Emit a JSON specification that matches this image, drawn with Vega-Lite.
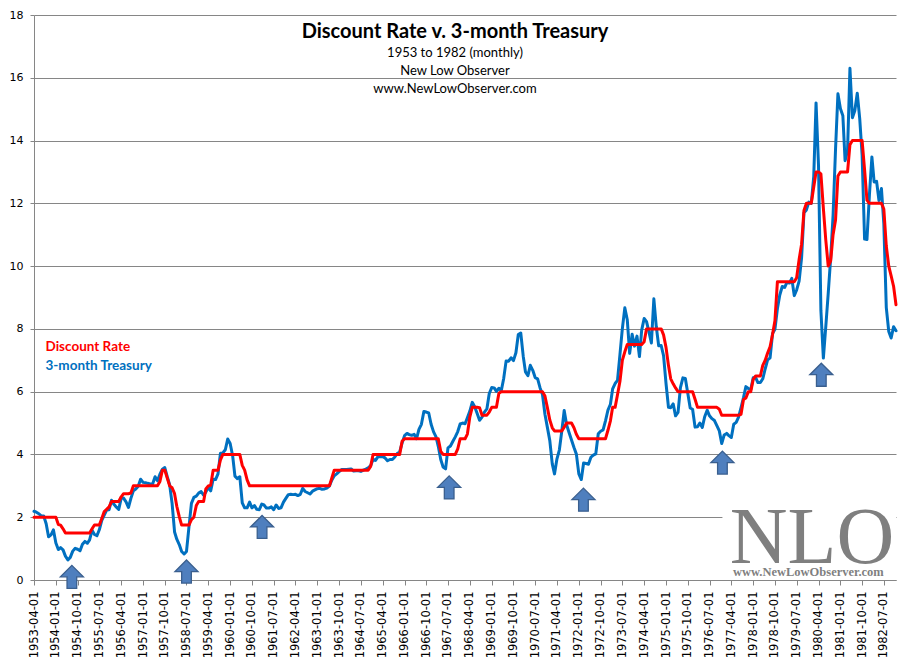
{
  "$schema": "https://vega.github.io/schema/vega-lite/v6.json",
  "autosize": {"type": "none"},
  "width": 862,
  "height": 565,
  "padding": {"left": 34, "top": 15, "right": 15, "bottom": 82},
  "background": "white",
  "title": {
    "text": "Discount Rate v. 3-month Treasury",
    "subtitle": ["1953 to 1982 (monthly)", "New Low Observer", "www.NewLowObserver.com"],
    "anchor": "middle",
    "offset": -87,
    "dx": -10,
    "font": "Lato",
    "fontSize": 20,
    "fontWeight": "bold",
    "color": "#000000",
    "subtitleFont": "Lato",
    "subtitleFontSize": 13,
    "subtitleColor": "#000000",
    "subtitleLineHeight": 18,
    "subtitlePadding": 5
  },
  "datasets": {
    "rates": [
      {"d":"1953-04-01","r":2,"t":2.19},{"d":"1953-05-01","r":2,"t":2.16},{"d":"1953-06-01","r":2,"t":2.11},{"d":"1953-07-01","r":2,"t":2.04},{"d":"1953-08-01","r":2,"t":2.04},{"d":"1953-09-01","r":2,"t":1.79},{"d":"1953-10-01","r":2,"t":1.38},{"d":"1953-11-01","r":2,"t":1.44},{"d":"1953-12-01","r":2,"t":1.6},
      {"d":"1954-01-01","r":2,"t":1.18},{"d":"1954-02-01","r":1.77,"t":0.97},{"d":"1954-03-01","r":1.75,"t":1.03},{"d":"1954-04-01","r":1.63,"t":0.96},{"d":"1954-05-01","r":1.5,"t":0.76},{"d":"1954-06-01","r":1.5,"t":0.64},{"d":"1954-07-01","r":1.5,"t":0.72},{"d":"1954-08-01","r":1.5,"t":0.92},{"d":"1954-09-01","r":1.5,"t":1.01},{"d":"1954-10-01","r":1.5,"t":0.98},{"d":"1954-11-01","r":1.5,"t":0.93},{"d":"1954-12-01","r":1.5,"t":1.14},
      {"d":"1955-01-01","r":1.5,"t":1.23},{"d":"1955-02-01","r":1.5,"t":1.17},{"d":"1955-03-01","r":1.5,"t":1.28},{"d":"1955-04-01","r":1.63,"t":1.59},{"d":"1955-05-01","r":1.75,"t":1.45},{"d":"1955-06-01","r":1.75,"t":1.41},{"d":"1955-07-01","r":1.75,"t":1.6},{"d":"1955-08-01","r":1.96,"t":1.9},{"d":"1955-09-01","r":2.18,"t":2.07},{"d":"1955-10-01","r":2.25,"t":2.23},{"d":"1955-11-01","r":2.33,"t":2.24},{"d":"1955-12-01","r":2.5,"t":2.54},
      {"d":"1956-01-01","r":2.5,"t":2.41},{"d":"1956-02-01","r":2.5,"t":2.32},{"d":"1956-03-01","r":2.5,"t":2.25},{"d":"1956-04-01","r":2.65,"t":2.6},{"d":"1956-05-01","r":2.75,"t":2.61},{"d":"1956-06-01","r":2.75,"t":2.49},{"d":"1956-07-01","r":2.75,"t":2.31},{"d":"1956-08-01","r":2.77,"t":2.6},{"d":"1956-09-01","r":3,"t":2.84},{"d":"1956-10-01","r":3,"t":2.9},{"d":"1956-11-01","r":3,"t":2.99},{"d":"1956-12-01","r":3,"t":3.21},
      {"d":"1957-01-01","r":3,"t":3.11},{"d":"1957-02-01","r":3,"t":3.1},{"d":"1957-03-01","r":3,"t":3.08},{"d":"1957-04-01","r":3,"t":3.06},{"d":"1957-05-01","r":3,"t":3.06},{"d":"1957-06-01","r":3,"t":3.29},{"d":"1957-07-01","r":3,"t":3.16},{"d":"1957-08-01","r":3.14,"t":3.37},{"d":"1957-09-01","r":3.5,"t":3.53},{"d":"1957-10-01","r":3.5,"t":3.58},{"d":"1957-11-01","r":3.25,"t":3.29},{"d":"1957-12-01","r":3,"t":3.04},
      {"d":"1958-01-01","r":2.94,"t":2.44},{"d":"1958-02-01","r":2.75,"t":1.53},{"d":"1958-03-01","r":2.35,"t":1.3},{"d":"1958-04-01","r":2.02,"t":1.13},{"d":"1958-05-01","r":1.75,"t":0.91},{"d":"1958-06-01","r":1.75,"t":0.83},{"d":"1958-07-01","r":1.75,"t":0.91},{"d":"1958-08-01","r":1.75,"t":1.69},{"d":"1958-09-01","r":1.92,"t":2.44},{"d":"1958-10-01","r":2,"t":2.63},{"d":"1958-11-01","r":2.37,"t":2.67},{"d":"1958-12-01","r":2.5,"t":2.77},
      {"d":"1959-01-01","r":2.5,"t":2.82},{"d":"1959-02-01","r":2.5,"t":2.7},{"d":"1959-03-01","r":2.9,"t":2.8},{"d":"1959-04-01","r":3,"t":2.95},{"d":"1959-05-01","r":3.02,"t":2.84},{"d":"1959-06-01","r":3.5,"t":3.21},{"d":"1959-07-01","r":3.5,"t":3.2},{"d":"1959-08-01","r":3.5,"t":3.38},{"d":"1959-09-01","r":3.83,"t":4.04},{"d":"1959-10-01","r":4,"t":4.05},{"d":"1959-11-01","r":4,"t":4.15},{"d":"1959-12-01","r":4,"t":4.49},
      {"d":"1960-01-01","r":4,"t":4.35},{"d":"1960-02-01","r":4,"t":3.96},{"d":"1960-03-01","r":4,"t":3.31},{"d":"1960-04-01","r":4,"t":3.23},{"d":"1960-05-01","r":4,"t":3.29},{"d":"1960-06-01","r":3.65,"t":2.46},{"d":"1960-07-01","r":3.5,"t":2.3},{"d":"1960-08-01","r":3.19,"t":2.3},{"d":"1960-09-01","r":3,"t":2.48},{"d":"1960-10-01","r":3,"t":2.3},{"d":"1960-11-01","r":3,"t":2.37},{"d":"1960-12-01","r":3,"t":2.25},
      {"d":"1961-01-01","r":3,"t":2.24},{"d":"1961-02-01","r":3,"t":2.42},{"d":"1961-03-01","r":3,"t":2.39},{"d":"1961-04-01","r":3,"t":2.29},{"d":"1961-05-01","r":3,"t":2.29},{"d":"1961-06-01","r":3,"t":2.33},{"d":"1961-07-01","r":3,"t":2.24},{"d":"1961-08-01","r":3,"t":2.39},{"d":"1961-09-01","r":3,"t":2.28},{"d":"1961-10-01","r":3,"t":2.3},{"d":"1961-11-01","r":3,"t":2.48},{"d":"1961-12-01","r":3,"t":2.6},
      {"d":"1962-01-01","r":3,"t":2.72},{"d":"1962-02-01","r":3,"t":2.73},{"d":"1962-03-01","r":3,"t":2.72},{"d":"1962-04-01","r":3,"t":2.73},{"d":"1962-05-01","r":3,"t":2.69},{"d":"1962-06-01","r":3,"t":2.73},{"d":"1962-07-01","r":3,"t":2.92},{"d":"1962-08-01","r":3,"t":2.82},{"d":"1962-09-01","r":3,"t":2.78},{"d":"1962-10-01","r":3,"t":2.74},{"d":"1962-11-01","r":3,"t":2.83},{"d":"1962-12-01","r":3,"t":2.87},
      {"d":"1963-01-01","r":3,"t":2.91},{"d":"1963-02-01","r":3,"t":2.92},{"d":"1963-03-01","r":3,"t":2.89},{"d":"1963-04-01","r":3,"t":2.9},{"d":"1963-05-01","r":3,"t":2.93},{"d":"1963-06-01","r":3,"t":2.99},{"d":"1963-07-01","r":3.24,"t":3.18},{"d":"1963-08-01","r":3.5,"t":3.32},{"d":"1963-09-01","r":3.5,"t":3.38},{"d":"1963-10-01","r":3.5,"t":3.45},{"d":"1963-11-01","r":3.5,"t":3.52},{"d":"1963-12-01","r":3.5,"t":3.52},
      {"d":"1964-01-01","r":3.5,"t":3.52},{"d":"1964-02-01","r":3.5,"t":3.53},{"d":"1964-03-01","r":3.5,"t":3.54},{"d":"1964-04-01","r":3.5,"t":3.47},{"d":"1964-05-01","r":3.5,"t":3.48},{"d":"1964-06-01","r":3.5,"t":3.48},{"d":"1964-07-01","r":3.5,"t":3.46},{"d":"1964-08-01","r":3.5,"t":3.5},{"d":"1964-09-01","r":3.5,"t":3.53},{"d":"1964-10-01","r":3.5,"t":3.57},{"d":"1964-11-01","r":3.62,"t":3.64},{"d":"1964-12-01","r":4,"t":3.84},
      {"d":"1965-01-01","r":4,"t":3.81},{"d":"1965-02-01","r":4,"t":3.93},{"d":"1965-03-01","r":4,"t":3.93},{"d":"1965-04-01","r":4,"t":3.93},{"d":"1965-05-01","r":4,"t":3.89},{"d":"1965-06-01","r":4,"t":3.8},{"d":"1965-07-01","r":4,"t":3.84},{"d":"1965-08-01","r":4,"t":3.84},{"d":"1965-09-01","r":4,"t":3.92},{"d":"1965-10-01","r":4,"t":4.03},{"d":"1965-11-01","r":4,"t":4.08},{"d":"1965-12-01","r":4.42,"t":4.36},
      {"d":"1966-01-01","r":4.5,"t":4.6},{"d":"1966-02-01","r":4.5,"t":4.67},{"d":"1966-03-01","r":4.5,"t":4.63},{"d":"1966-04-01","r":4.5,"t":4.61},{"d":"1966-05-01","r":4.5,"t":4.64},{"d":"1966-06-01","r":4.5,"t":4.5},{"d":"1966-07-01","r":4.5,"t":4.8},{"d":"1966-08-01","r":4.5,"t":4.96},{"d":"1966-09-01","r":4.5,"t":5.37},{"d":"1966-10-01","r":4.5,"t":5.35},{"d":"1966-11-01","r":4.5,"t":5.32},{"d":"1966-12-01","r":4.5,"t":4.96},
      {"d":"1967-01-01","r":4.5,"t":4.72},{"d":"1967-02-01","r":4.5,"t":4.56},{"d":"1967-03-01","r":4.5,"t":4.26},{"d":"1967-04-01","r":4.1,"t":3.84},{"d":"1967-05-01","r":4,"t":3.6},{"d":"1967-06-01","r":4,"t":3.54},{"d":"1967-07-01","r":4,"t":4.21},{"d":"1967-08-01","r":4,"t":4.27},{"d":"1967-09-01","r":4,"t":4.42},{"d":"1967-10-01","r":4,"t":4.56},{"d":"1967-11-01","r":4.18,"t":4.73},{"d":"1967-12-01","r":4.5,"t":4.97},
      {"d":"1968-01-01","r":4.5,"t":5},{"d":"1968-02-01","r":4.5,"t":4.98},{"d":"1968-03-01","r":4.65,"t":5.17},{"d":"1968-04-01","r":5.2,"t":5.38},{"d":"1968-05-01","r":5.5,"t":5.66},{"d":"1968-06-01","r":5.5,"t":5.52},{"d":"1968-07-01","r":5.5,"t":5.31},{"d":"1968-08-01","r":5.49,"t":5.09},{"d":"1968-09-01","r":5.25,"t":5.19},{"d":"1968-10-01","r":5.25,"t":5.35},{"d":"1968-11-01","r":5.25,"t":5.45},{"d":"1968-12-01","r":5.35,"t":5.94},
      {"d":"1969-01-01","r":5.5,"t":6.13},{"d":"1969-02-01","r":5.5,"t":6.12},{"d":"1969-03-01","r":5.5,"t":6.01},{"d":"1969-04-01","r":5.95,"t":6.11},{"d":"1969-05-01","r":6,"t":6.03},{"d":"1969-06-01","r":6,"t":6.43},{"d":"1969-07-01","r":6,"t":6.98},{"d":"1969-08-01","r":6,"t":6.97},{"d":"1969-09-01","r":6,"t":7.08},{"d":"1969-10-01","r":6,"t":6.99},{"d":"1969-11-01","r":6,"t":7.24},{"d":"1969-12-01","r":6,"t":7.82},
      {"d":"1970-01-01","r":6,"t":7.87},{"d":"1970-02-01","r":6,"t":7.13},{"d":"1970-03-01","r":6,"t":6.63},{"d":"1970-04-01","r":6,"t":6.51},{"d":"1970-05-01","r":6,"t":6.84},{"d":"1970-06-01","r":6,"t":6.68},{"d":"1970-07-01","r":6,"t":6.45},{"d":"1970-08-01","r":6,"t":6.41},{"d":"1970-09-01","r":6,"t":6.12},{"d":"1970-10-01","r":6,"t":5.91},{"d":"1970-11-01","r":5.86,"t":5.28},{"d":"1970-12-01","r":5.5,"t":4.87},
      {"d":"1971-01-01","r":5.1,"t":4.44},{"d":"1971-02-01","r":4.85,"t":3.7},{"d":"1971-03-01","r":4.75,"t":3.38},{"d":"1971-04-01","r":4.75,"t":3.86},{"d":"1971-05-01","r":4.75,"t":4.14},{"d":"1971-06-01","r":4.75,"t":4.75},{"d":"1971-07-01","r":4.87,"t":5.4},{"d":"1971-08-01","r":5,"t":4.94},{"d":"1971-09-01","r":5,"t":4.69},{"d":"1971-10-01","r":5,"t":4.46},{"d":"1971-11-01","r":4.85,"t":4.22},{"d":"1971-12-01","r":4.64,"t":4.01},
      {"d":"1972-01-01","r":4.5,"t":3.38},{"d":"1972-02-01","r":4.5,"t":3.2},{"d":"1972-03-01","r":4.5,"t":3.73},{"d":"1972-04-01","r":4.5,"t":3.71},{"d":"1972-05-01","r":4.5,"t":3.69},{"d":"1972-06-01","r":4.5,"t":3.91},{"d":"1972-07-01","r":4.5,"t":3.98},{"d":"1972-08-01","r":4.5,"t":4.02},{"d":"1972-09-01","r":4.5,"t":4.66},{"d":"1972-10-01","r":4.5,"t":4.74},{"d":"1972-11-01","r":4.5,"t":4.78},{"d":"1972-12-01","r":4.5,"t":5.07},
      {"d":"1973-01-01","r":4.77,"t":5.41},{"d":"1973-02-01","r":5.07,"t":5.6},{"d":"1973-03-01","r":5.5,"t":6.09},{"d":"1973-04-01","r":5.5,"t":6.26},{"d":"1973-05-01","r":5.9,"t":6.36},{"d":"1973-06-01","r":6.33,"t":7.19},{"d":"1973-07-01","r":7,"t":8.01},{"d":"1973-08-01","r":7.27,"t":8.67},{"d":"1973-09-01","r":7.5,"t":8.29},{"d":"1973-10-01","r":7.5,"t":7.22},{"d":"1973-11-01","r":7.5,"t":7.83},{"d":"1973-12-01","r":7.5,"t":7.45},
      {"d":"1974-01-01","r":7.5,"t":7.77},{"d":"1974-02-01","r":7.5,"t":7.12},{"d":"1974-03-01","r":7.5,"t":7.96},{"d":"1974-04-01","r":7.59,"t":8.33},{"d":"1974-05-01","r":8,"t":8.23},{"d":"1974-06-01","r":8,"t":7.9},{"d":"1974-07-01","r":8,"t":7.55},{"d":"1974-08-01","r":8,"t":8.96},{"d":"1974-09-01","r":8,"t":8.06},{"d":"1974-10-01","r":8,"t":7.46},{"d":"1974-11-01","r":8,"t":7.47},{"d":"1974-12-01","r":7.81,"t":7.15},
      {"d":"1975-01-01","r":7.41,"t":6.26},{"d":"1975-02-01","r":6.83,"t":5.5},{"d":"1975-03-01","r":6.41,"t":5.49},{"d":"1975-04-01","r":6.25,"t":5.61},{"d":"1975-05-01","r":6.12,"t":5.23},{"d":"1975-06-01","r":6,"t":5.34},{"d":"1975-07-01","r":6,"t":6.13},{"d":"1975-08-01","r":6,"t":6.44},{"d":"1975-09-01","r":6,"t":6.42},{"d":"1975-10-01","r":6,"t":5.96},{"d":"1975-11-01","r":6,"t":5.48},{"d":"1975-12-01","r":6,"t":5.44},
      {"d":"1976-01-01","r":5.76,"t":4.87},{"d":"1976-02-01","r":5.5,"t":4.88},{"d":"1976-03-01","r":5.5,"t":5},{"d":"1976-04-01","r":5.5,"t":4.86},{"d":"1976-05-01","r":5.5,"t":5.2},{"d":"1976-06-01","r":5.5,"t":5.41},{"d":"1976-07-01","r":5.5,"t":5.23},{"d":"1976-08-01","r":5.5,"t":5.14},{"d":"1976-09-01","r":5.5,"t":5.08},{"d":"1976-10-01","r":5.5,"t":4.92},{"d":"1976-11-01","r":5.44,"t":4.75},{"d":"1976-12-01","r":5.25,"t":4.35},
      {"d":"1977-01-01","r":5.25,"t":4.62},{"d":"1977-02-01","r":5.25,"t":4.67},{"d":"1977-03-01","r":5.25,"t":4.6},{"d":"1977-04-01","r":5.25,"t":4.54},{"d":"1977-05-01","r":5.25,"t":4.96},{"d":"1977-06-01","r":5.25,"t":5.02},{"d":"1977-07-01","r":5.25,"t":5.19},{"d":"1977-08-01","r":5.28,"t":5.49},{"d":"1977-09-01","r":5.75,"t":5.81},{"d":"1977-10-01","r":5.8,"t":6.16},{"d":"1977-11-01","r":6,"t":6.1},{"d":"1977-12-01","r":6,"t":6.07},
      {"d":"1978-01-01","r":6.39,"t":6.44},{"d":"1978-02-01","r":6.5,"t":6.45},{"d":"1978-03-01","r":6.5,"t":6.29},{"d":"1978-04-01","r":6.5,"t":6.29},{"d":"1978-05-01","r":6.84,"t":6.41},{"d":"1978-06-01","r":7,"t":6.73},{"d":"1978-07-01","r":7.23,"t":7.01},{"d":"1978-08-01","r":7.43,"t":7.08},{"d":"1978-09-01","r":7.82,"t":7.85},{"d":"1978-10-01","r":8.26,"t":7.99},{"d":"1978-11-01","r":9.5,"t":8.64},{"d":"1978-12-01","r":9.5,"t":9.08},
      {"d":"1979-01-01","r":9.5,"t":9.35},{"d":"1979-02-01","r":9.5,"t":9.32},{"d":"1979-03-01","r":9.5,"t":9.48},{"d":"1979-04-01","r":9.5,"t":9.46},{"d":"1979-05-01","r":9.5,"t":9.61},{"d":"1979-06-01","r":9.5,"t":9.06},{"d":"1979-07-01","r":9.63,"t":9.24},{"d":"1979-08-01","r":10.21,"t":9.52},{"d":"1979-09-01","r":10.7,"t":10.26},{"d":"1979-10-01","r":11.77,"t":11.7},{"d":"1979-11-01","r":12,"t":11.79},{"d":"1979-12-01","r":12,"t":12.04},
      {"d":"1980-01-01","r":12,"t":12},{"d":"1980-02-01","r":12.52,"t":12.86},{"d":"1980-03-01","r":13,"t":15.2},{"d":"1980-04-01","r":13,"t":13.2},{"d":"1980-05-01","r":12.94,"t":8.58},{"d":"1980-06-01","r":11.84,"t":7.07},{"d":"1980-07-01","r":10.84,"t":8.06},{"d":"1980-08-01","r":10,"t":9.13},{"d":"1980-09-01","r":10.17,"t":10.27},{"d":"1980-10-01","r":11,"t":11.62},{"d":"1980-11-01","r":11.47,"t":13.73},{"d":"1980-12-01","r":12.87,"t":15.49},
      {"d":"1981-01-01","r":13,"t":15.02},{"d":"1981-02-01","r":13,"t":14.79},{"d":"1981-03-01","r":13,"t":13.36},{"d":"1981-04-01","r":13,"t":13.69},{"d":"1981-05-01","r":13.87,"t":16.3},{"d":"1981-06-01","r":14,"t":14.73},{"d":"1981-07-01","r":14,"t":14.95},{"d":"1981-08-01","r":14,"t":15.51},{"d":"1981-09-01","r":14,"t":14.7},{"d":"1981-10-01","r":14,"t":13.54},{"d":"1981-11-01","r":13.07,"t":10.86},{"d":"1981-12-01","r":12.1,"t":10.85},
      {"d":"1982-01-01","r":12,"t":12.28},{"d":"1982-02-01","r":12,"t":13.48},{"d":"1982-03-01","r":12,"t":12.68},{"d":"1982-04-01","r":12,"t":12.7},{"d":"1982-05-01","r":12,"t":12.09},{"d":"1982-06-01","r":12,"t":12.47},{"d":"1982-07-01","r":11.82,"t":11.35},{"d":"1982-08-01","r":10.64,"t":8.68},{"d":"1982-09-01","r":10,"t":7.92},{"d":"1982-10-01","r":9.69,"t":7.71},{"d":"1982-11-01","r":9.35,"t":8.07},{"d":"1982-12-01","r":8.77,"t":7.94}
    ],
    "arrows": [
      {"d":"1954-07-21","v":0.1},
      {"d":"1958-07-01","v":0.27},
      {"d":"1961-02-05","v":1.69},
      {"d":"1967-07-16","v":2.95},
      {"d":"1972-02-28","v":2.56},
      {"d":"1976-12-10","v":3.74},
      {"d":"1980-05-06","v":6.54}
    ]
  },
  "data": {"name": "rates"},
  "encoding": {
    "x": {
      "field": "d",
      "type": "temporal",
      "title": null,
      "scale": {
        "type": "utc",
        "domain": [{"year": 1953, "month": 4, "date": 1, "utc": true}, {"year": 1982, "month": 12, "date": 1, "utc": true}]
      },
      "axis": {
        "values": [
          {"year":1953,"month":4,"date":1,"utc":true},{"year":1954,"month":1,"date":1,"utc":true},{"year":1954,"month":10,"date":1,"utc":true},{"year":1955,"month":7,"date":1,"utc":true},
          {"year":1956,"month":4,"date":1,"utc":true},{"year":1957,"month":1,"date":1,"utc":true},{"year":1957,"month":10,"date":1,"utc":true},{"year":1958,"month":7,"date":1,"utc":true},
          {"year":1959,"month":4,"date":1,"utc":true},{"year":1960,"month":1,"date":1,"utc":true},{"year":1960,"month":10,"date":1,"utc":true},{"year":1961,"month":7,"date":1,"utc":true},
          {"year":1962,"month":4,"date":1,"utc":true},{"year":1963,"month":1,"date":1,"utc":true},{"year":1963,"month":10,"date":1,"utc":true},{"year":1964,"month":7,"date":1,"utc":true},
          {"year":1965,"month":4,"date":1,"utc":true},{"year":1966,"month":1,"date":1,"utc":true},{"year":1966,"month":10,"date":1,"utc":true},{"year":1967,"month":7,"date":1,"utc":true},
          {"year":1968,"month":4,"date":1,"utc":true},{"year":1969,"month":1,"date":1,"utc":true},{"year":1969,"month":10,"date":1,"utc":true},{"year":1970,"month":7,"date":1,"utc":true},
          {"year":1971,"month":4,"date":1,"utc":true},{"year":1972,"month":1,"date":1,"utc":true},{"year":1972,"month":10,"date":1,"utc":true},{"year":1973,"month":7,"date":1,"utc":true},
          {"year":1974,"month":4,"date":1,"utc":true},{"year":1975,"month":1,"date":1,"utc":true},{"year":1975,"month":10,"date":1,"utc":true},{"year":1976,"month":7,"date":1,"utc":true},
          {"year":1977,"month":4,"date":1,"utc":true},{"year":1978,"month":1,"date":1,"utc":true},{"year":1978,"month":10,"date":1,"utc":true},{"year":1979,"month":7,"date":1,"utc":true},
          {"year":1980,"month":4,"date":1,"utc":true},{"year":1981,"month":1,"date":1,"utc":true},{"year":1981,"month":10,"date":1,"utc":true},{"year":1982,"month":7,"date":1,"utc":true}
        ],
        "format": "%Y-%m-%d",
        "labelAngle": -90,
        "labelFont": "DejaVu Sans",
        "labelFontSize": 11.5,
        "labelColor": "#000000",
        "labelPadding": 6,
        "labelOverlap": false,
        "labelFlush": false,
        "tickSize": 5,
        "grid": false
      }
    }
  },
  "layer": [
    {
      "transform": [
        {"window": [{"op": "row_number", "as": "k"}]},
        {"filter": "datum.k == 1"}
      ],
      "mark": {"type": "rect", "color": "white"},
      "encoding": {
        "x": {"datum": {"year": 1976, "month": 12, "date": 10, "utc": true}, "type": "temporal"},
        "x2": {"datum": {"year": 1982, "month": 12, "date": 1, "utc": true}},
        "y": {"datum": 0.1, "type": "quantitative", "title": null, "scale": {"domain": [0, 18], "nice": false}},
        "y2": {"datum": 2.35}
      }
    },
    {
      "mark": {"type": "line", "strokeWidth": 3, "strokeJoin": "round", "strokeCap": "round"},
      "encoding": {
        "y": {
          "field": "t",
          "type": "quantitative",
          "title": null,
          "scale": {"domain": [0, 18], "nice": false},
          "axis": {
            "values": [0, 2, 4, 6, 8, 10, 12, 14, 16, 18],
            "grid": true,
            "tickSize": 4,
            "labelFont": "DejaVu Sans",
            "labelFontSize": 11,
            "labelColor": "#000000",
            "labelPadding": 7
          }
        },
        "color": {
          "datum": "3-month Treasury",
          "type": "nominal",
          "scale": {"domain": ["Discount Rate", "3-month Treasury"], "range": ["#FF0000", "#0070C0"]},
          "legend": {
            "orient": "none",
            "legendX": -2,
            "legendY": 325,
            "title": null,
            "padding": 0,
            "symbolSize": 0,
            "symbolStrokeWidth": 0,
            "symbolOpacity": 0,
            "labelOffset": 0,
            "labelFont": "Lato",
            "labelFontSize": 13.5,
            "labelFontWeight": "bold",
            "labelColor": {"expr": "datum.label == 'Discount Rate' ? '#FF0000' : '#0070C0'"},
            "rowPadding": 4.5
          }
        }
      }
    },
    {
      "mark": {"type": "line", "strokeWidth": 3, "strokeJoin": "round", "strokeCap": "round"},
      "encoding": {
        "y": {"field": "r", "type": "quantitative", "title": null, "scale": {"domain": [0, 18], "nice": false}},
        "color": {"datum": "Discount Rate", "type": "nominal"}
      }
    },
    {
      "data": {"name": "arrows"},
      "mark": {
        "type": "point",
        "shape": "M0,-1L1,0L0.42,0L0.42,1L-0.42,1L-0.42,0L-1,0Z",
        "size": 530,
        "filled": true,
        "fill": "#4F7FBE",
        "stroke": "#3A5F8E",
        "strokeWidth": 1.3,
        "opacity": 1
      },
      "encoding": {
        "x": {"field": "d", "type": "temporal"},
        "y": {"field": "v", "type": "quantitative", "title": null, "scale": {"domain": [0, 18], "nice": false}}
      }
    },
    {
      "transform": [
        {"window": [{"op": "row_number", "as": "k"}]},
        {"filter": "datum.k == 1"}
      ],
      "mark": {"type": "text", "text": "NLO", "font": "Liberation Serif", "fontSize": 80, "color": "#7F7F7F", "align": "center", "baseline": "alphabetic"},
      "encoding": {
        "x": {"datum": {"year": 1980, "month": 1, "date": 10, "utc": true}, "type": "temporal"},
        "y": {"datum": 0.55, "type": "quantitative", "title": null}
      }
    },
    {
      "transform": [
        {"window": [{"op": "row_number", "as": "k"}]},
        {"filter": "datum.k == 1"}
      ],
      "mark": {"type": "text", "text": "www.NewLowObserver.com", "font": "Liberation Serif", "fontSize": 12.5, "fontWeight": "bold", "color": "#7F7F7F", "align": "center", "baseline": "alphabetic"},
      "encoding": {
        "x": {"datum": {"year": 1979, "month": 11, "date": 25, "utc": true}, "type": "temporal"},
        "y": {"datum": 0.12, "type": "quantitative", "title": null}
      }
    }
  ],
  "config": {
    "view": {"stroke": null},
    "axis": {
      "domainColor": "#868686",
      "tickColor": "#868686",
      "gridColor": "#868686",
      "domainWidth": 1,
      "tickWidth": 1,
      "gridWidth": 1
    }
  }
}
